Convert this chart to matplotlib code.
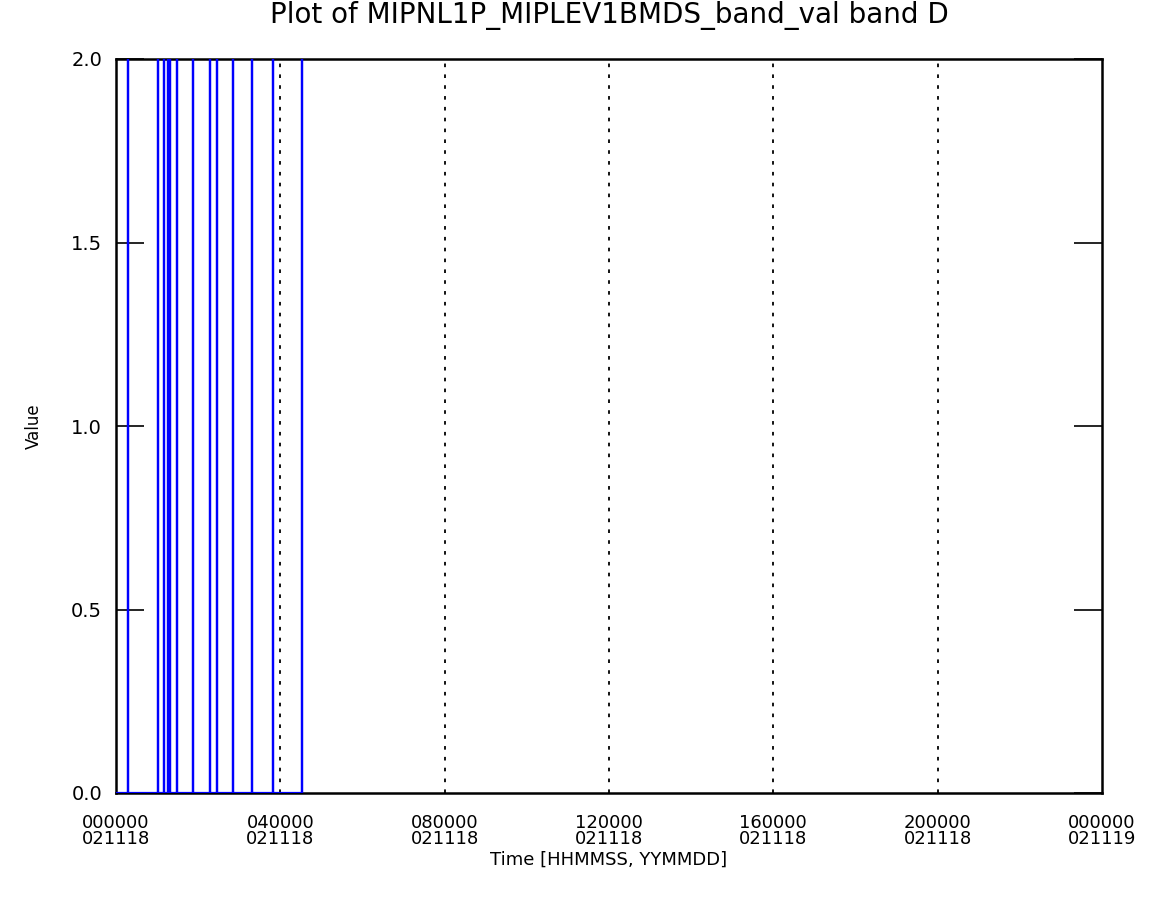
import matplotlib
matplotlib.use("Agg")
import matplotlib.pyplot as plt

# Data: time in hours since 2002-11-18 00:00, value
spike_times_h = [0.30, 1.03, 1.18, 1.26, 1.31, 1.48, 1.88, 2.29, 2.45, 2.86, 3.30, 3.83, 4.53]
spike_value = 2.0
base_value = 0.0

x_tick_hours = [0, 4, 8, 12, 16, 20, 24]
x_tick_labels = ["000000\n021118", "040000\n021118", "080000\n021118", "120000\n021118",
                 "160000\n021118", "200000\n021118", "000000\n021119"]
y_ticks = [0.0, 0.5, 1.0, 1.5, 2.0]
y_tick_labels = ["0.0", "0.5", "1.0", "1.5", "2.0"]

# Build series: baseline, rising to spike and back at each spike time
t = [0.0]
v = [base_value]
for s in spike_times_h:
    t += [s, s, s]
    v += [base_value, spike_value, base_value]

fig = plt.figure(figsize=(11.6, 9.07), dpi=100)
ax = fig.add_axes([116/1160, 1 - 793/907, (1102-116)/1160, (793-59)/907])

ax.plot(t, v, color="#0000ff", linewidth=1.6, zorder=3)

ax.set_xlim(0, 24)
ax.set_ylim(0, 2.0)

# Dotted vertical grid lines at interior ticks
for h in x_tick_hours[1:-1]:
    ax.axvline(h, color="black", linestyle=(0, (2, 4)), linewidth=1.3, zorder=2)

ax.set_xticks(x_tick_hours)
ax.set_xticklabels(x_tick_labels, fontsize=13, linespacing=0.85)
ax.set_yticks(y_ticks)
ax.set_yticklabels(y_tick_labels, fontsize=14)
ax.tick_params(axis="x", length=0, pad=15)
ax.tick_params(axis="y", direction="in", length=20, width=1.2, left=True, right=True, pad=10)

for sp in ax.spines.values():
    sp.set_linewidth(1.8)

ax.set_title("Plot of MIPNL1P_MIPLEV1BMDS_band_val band D", fontsize=20, pad=26)
ax.set_xlabel("Time [HHMMSS, YYMMDD]", fontsize=13, labelpad=2)
ax.set_ylabel("Value", fontsize=12, labelpad=20)

fig.savefig("out.png", dpi=100)
